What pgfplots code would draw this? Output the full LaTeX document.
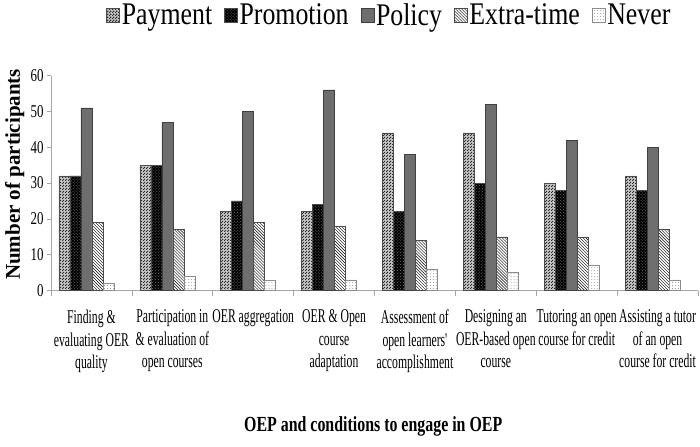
\documentclass[border=0pt]{standalone}
\usepackage{pgfplots}
\pgfplotsset{compat=1.18}
\usepackage{fontspec}
\usetikzlibrary{patterns}
\setmainfont{Liberation Serif}
\newfontfamily\tickfont[FakeStretch=0.6]{Liberation Serif}
\newfontfamily\numfont[FakeStretch=0.72]{Liberation Serif}
\newfontfamily\legfont[FakeStretch=0.82]{Liberation Serif}
\newfontfamily\labfont[FakeStretch=0.74]{Liberation Serif}

% fine checker pattern for the Payment bars
\pgfdeclarepatternformonly{finecheck}{\pgfpointorigin}{\pgfqpoint{2.6pt}{2.6pt}}{\pgfqpoint{2.6pt}{2.6pt}}{%
  \pgfpathrectangle{\pgfpointorigin}{\pgfqpoint{1.3pt}{1.3pt}}%
  \pgfpathrectangle{\pgfqpoint{1.3pt}{1.3pt}}{\pgfqpoint{1.3pt}{1.3pt}}%
  \pgfusepath{fill}}

\pgfplotstableread{
x payment promotion policy extra never
0 32 32 51 19 2
1 35 35 47 17 4
2 22 25 50 19 3
3 22 24 56 18 3
4 44 22 38 14 6
5 44 30 52 15 5
6 30 28 42 15 7
7 32 28 40 17 3
}\oepdata

\begin{document}
\begin{tikzpicture}
\path[use as bounding box] (0,0) rectangle (700bp,447bp);
\begin{axis}[
    at={(51bp,156.5bp)}, anchor=south west,
    scale only axis,
    width=647bp, height=215bp,
    ybar=0pt, bar width=11bp,
    xmin=-0.5, xmax=7.5,
    ymin=0, ymax=60,
    ytick={0,10,...,60},
    xtick={0,...,7},
    minor xtick={-0.5,0.5,...,7.5},
    xticklabels={
      {Finding \&\\evaluating OER\\quality},
      {Participation in\\\& evaluation of\\open courses},
      {OER aggregation},
      {OER \& Open\\course\\adaptation},
      {Assessment of\\open learners'\\accomplishment},
      {Designing an\\OER-based open\\course},
      {Tutoring an open\\course for credit},
      {Assisting a tutor\\of an open\\course for credit}},
    x tick label style={font=\tickfont\fontsize{19.5bp}{22.5bp}\selectfont, align=center, yshift=-12bp},
    y tick label style={font=\numfont\fontsize{18bp}{18bp}\selectfont},
    /pgf/number format/assume math mode=true,
    major x tick style={draw=none},
    minor tick length=5bp,
    major tick length=4bp,
    tick align=outside,
    axis x line*=bottom, axis y line*=left,
    axis line style={gray!70, line width=0.6pt},
    every tick/.style={gray!70, line width=0.6pt},
    xlabel={OEP and conditions to engage in OEP},
    xlabel style={font=\labfont\bfseries\fontsize{21.5bp}{21.5bp}\selectfont,
      at={(axis description cs:0.498,0)}, anchor=base, yshift=-141bp},
    ylabel={Number of participants},
    ylabel style={font=\bfseries\fontsize{21bp}{21bp}\selectfont,
      at={(axis description cs:-0.056,0.54)}, anchor=center},
    legend columns=5,
    legend style={draw=none, fill=none, at={(0.523,1.345)}, anchor=north,
      font=\legfont\fontsize{31.5bp}{31.5bp}\selectfont,
      /tikz/every even column/.append style={column sep=10bp},
      inner sep=0pt},
    legend image code/.code={\draw[#1] (0bp,-7bp) rectangle (13bp,7bp);},
    every axis plot/.append style={draw=black!70, line width=0.4pt, xshift=-5bp},
]
\addplot[fill=black!22, postaction={pattern=finecheck, pattern color=black!85}] table[x=x, y=payment] {\oepdata};
\addplot[fill=black, postaction={pattern=crosshatch dots, pattern color=black!55}] table[x=x, y=promotion] {\oepdata};
\addplot[fill=black!57, draw=black!75] table[x=x, y=policy] {\oepdata};
\addplot[fill=white, postaction={pattern=north west lines, pattern color=black}] table[x=x, y=extra] {\oepdata};
\addplot[fill=white, draw=black!45, postaction={pattern=dots, pattern color=black!45}] table[x=x, y=never] {\oepdata};
\legend{Payment, Promotion, Policy, Extra-time, Never}
\end{axis}
\end{tikzpicture}
\end{document}
